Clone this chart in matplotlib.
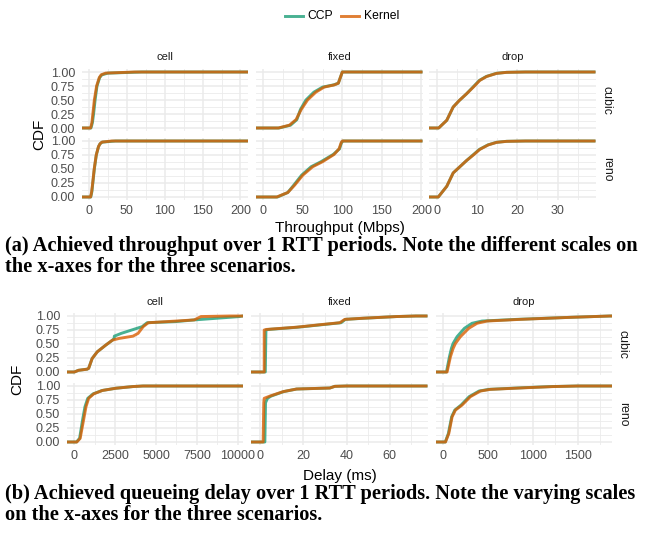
import matplotlib
matplotlib.use("Agg")
import matplotlib.pyplot as plt

# colours (ggplot Dark2)
CCP_COLOR = "#1B9E77"
KERNEL_COLOR = "#D95F02"

SCENARIOS = ["cell", "fixed", "drop"]
ALGOS = ["cubic", "reno"]

# ---- throughput data: x (Mbps) read at given CDF levels ----
TPUT_CELL_LEVELS = [0, 0.05, 0.1, 0.25, 0.5, 0.75, 0.9, 0.95, 0.98, 1.0]
TPUT_CELL_CUBIC_CCP = [2.5, 3.6, 4.5, 6, 8, 10.5, 14, 17, 25, 70]
TPUT_CELL_CUBIC_KERNEL = [2, 3, 3.8, 5, 7, 10, 13.5, 16, 22, 60]
TPUT_CELL_RENO_CCP = [2.2, 3.1, 3.8, 5.0, 7.0, 9.6, 12.5, 14.5, 17.5, 35]
TPUT_CELL_RENO_KERNEL = [2, 2.8, 3.5, 4.8, 6.8, 9.5, 12.5, 14.5, 17, 30]

TPUT_FIXED_CUBIC_LEVELS = [0, 0.05, 0.15, 0.33, 0.5, 0.64, 0.73, 0.77, 0.8, 0.9, 1.0]
TPUT_FIXED_CUBIC_CCP = [20, 34.5, 42.5, 47, 54, 64, 75, 89, 95, 97.5, 100]
TPUT_FIXED_CUBIC_KERNEL = [19, 33, 41.5, 48, 56, 66.5, 77, 90, 95, 97.5, 100]
TPUT_FIXED_RENO_LEVELS = [0, 0.08, 0.21, 0.39, 0.54, 0.63, 0.76, 0.86, 0.97, 1.0]
TPUT_FIXED_RENO_CCP = [18, 31, 38.5, 48.5, 60.5, 73, 88.5, 96.5, 99, 101]
TPUT_FIXED_RENO_KERNEL = [17, 31, 39.6, 50, 62.5, 75, 89.6, 95.9, 98.6, 100]

TPUT_DROP_CUBIC_LEVELS = [0, 0.137, 0.375, 0.49, 0.61, 0.73, 0.85, 0.92, 0.976, 0.994, 1.0]
TPUT_DROP_CUBIC_CCP = [0.5, 2.5, 4.1, 5.6, 7.4, 9.0, 10.6, 12.3, 14.8, 17.3, 22]
TPUT_DROP_CUBIC_KERNEL = [0.5, 2.5, 4.1, 5.6, 7.4, 9.1, 10.7, 12.4, 14.9, 17.4, 22]
TPUT_DROP_RENO_LEVELS = [0, 0.19, 0.43, 0.53, 0.65, 0.75, 0.85, 0.93, 0.976, 0.994, 1.0]
TPUT_DROP_RENO_CCP = [0.4, 2.5, 4.1, 5.6, 7.4, 9.0, 10.6, 12.7, 14.8, 17.3, 22]
TPUT_DROP_RENO_KERNEL = [0.4, 2.5, 4.1, 5.6, 7.4, 9.1, 10.7, 12.8, 14.9, 17.4, 22]

# ---- delay data: x (ms) read at given CDF levels ----
DELAY_CELL_CUBIC_LEVELS = [0, 0.03, 0.05, 0.065, 0.24, 0.36, 0.48, 0.57, 0.6, 0.64,
                           0.69, 0.81, 0.88, 0.9, 0.93, 0.99, 1.0]
DELAY_CELL_CUBIC_CCP = [0, 250, 775, 875, 1087, 1400, 1920, 2337, 2440, 2445,
                        2870, 4150, 4450, 6200, 7337, 10100, 10300]
DELAY_CELL_CUBIC_KERNEL = [0, 250, 775, 875, 1087, 1400, 1920, 2337, 2750, 3587,
                           3900, 4212, 4525, 5668, 7337, 7750, 9500]
DELAY_CELL_RENO_LEVELS = [0, 0.065, 0.39, 0.63, 0.78, 0.86, 0.92, 0.96, 0.99, 1.0]
DELAY_CELL_RENO_CCP = [130, 320, 500, 650, 820, 1150, 1700, 2540, 3580, 4200]
DELAY_CELL_RENO_KERNEL = [150, 356, 562, 712, 875, 1187, 1710, 2540, 3580, 4200]

DELAY_FIXED_CUBIC_LEVELS = [0, 0.75, 0.76, 0.8, 0.85, 0.88, 0.94, 0.96, 0.99, 1.0]
DELAY_FIXED_CUBIC_CCP = [2.5, 2.8, 4.0, 17.5, 30, 37.5, 39.5, 48, 63, 72]
DELAY_FIXED_CUBIC_KERNEL = [2, 2, 3, 16.9, 29.2, 36.9, 39.2, 47.6, 63, 72]
DELAY_FIXED_RENO_LEVELS = [0, 0.7, 0.78, 0.82, 0.9, 0.946, 0.964, 0.994, 1.0]
DELAY_FIXED_RENO_CCP = [2.3, 2.6, 3.5, 5.2, 11, 17, 32.3, 34.6, 40]
DELAY_FIXED_RENO_KERNEL = [1.5, 1.8, 2.0, 4.6, 10.8, 16.9, 32.3, 34.6, 40]

DELAY_DROP_CUBIC_LEVELS = [0, 0.27, 0.42, 0.51, 0.63, 0.78, 0.87, 0.91, 0.94, 0.976, 1.0]
DELAY_DROP_CUBIC_CCP = [37, 70, 92, 111, 155, 237, 322, 433, 822, 1415, 1859]
DELAY_DROP_CUBIC_KERNEL = [44, 81, 111, 137, 192, 285, 378, 489, 859, 1415, 1859]
DELAY_DROP_RENO_LEVELS = [0, 0.15, 0.45, 0.57, 0.66, 0.81, 0.91, 0.94, 0.97, 0.99, 1.0]
DELAY_DROP_RENO_CCP = [24, 58, 95, 130, 200, 290, 400, 510, 900, 1200, 1500]
DELAY_DROP_RENO_KERNEL = [26, 63, 100, 137, 211, 304, 415, 526, 933, 1230, 1500]

TPUT_XTICKS = [[0, 50, 100, 150, 200], [0, 50, 100, 150, 200], [0, 10, 20, 30]]
TPUT_XLIMS = [(-9.3, 210.6), (-9.2, 201.5), (-1.9, 39.4)]
DELAY_XTICKS = [[0, 2500, 5000, 7500, 10000], [0, 20, 40, 60], [0, 500, 1000, 1500]]
DELAY_XLIMS = [(-450, 10350), (-4.1, 77.4), (-85, 1881)]
Y_TICKS = [0, 0.25, 0.5, 0.75, 1.0]

TPUT = {
    ("cell", "cubic"): (TPUT_CELL_LEVELS, TPUT_CELL_CUBIC_CCP, TPUT_CELL_CUBIC_KERNEL),
    ("cell", "reno"): (TPUT_CELL_LEVELS, TPUT_CELL_RENO_CCP, TPUT_CELL_RENO_KERNEL),
    ("fixed", "cubic"): (TPUT_FIXED_CUBIC_LEVELS, TPUT_FIXED_CUBIC_CCP, TPUT_FIXED_CUBIC_KERNEL),
    ("fixed", "reno"): (TPUT_FIXED_RENO_LEVELS, TPUT_FIXED_RENO_CCP, TPUT_FIXED_RENO_KERNEL),
    ("drop", "cubic"): (TPUT_DROP_CUBIC_LEVELS, TPUT_DROP_CUBIC_CCP, TPUT_DROP_CUBIC_KERNEL),
    ("drop", "reno"): (TPUT_DROP_RENO_LEVELS, TPUT_DROP_RENO_CCP, TPUT_DROP_RENO_KERNEL),
}
DELAY = {
    ("cell", "cubic"): (DELAY_CELL_CUBIC_LEVELS, DELAY_CELL_CUBIC_CCP, DELAY_CELL_CUBIC_KERNEL),
    ("cell", "reno"): (DELAY_CELL_RENO_LEVELS, DELAY_CELL_RENO_CCP, DELAY_CELL_RENO_KERNEL),
    ("fixed", "cubic"): (DELAY_FIXED_CUBIC_LEVELS, DELAY_FIXED_CUBIC_CCP, DELAY_FIXED_CUBIC_KERNEL),
    ("fixed", "reno"): (DELAY_FIXED_RENO_LEVELS, DELAY_FIXED_RENO_CCP, DELAY_FIXED_RENO_KERNEL),
    ("drop", "cubic"): (DELAY_DROP_CUBIC_LEVELS, DELAY_DROP_CUBIC_CCP, DELAY_DROP_CUBIC_KERNEL),
    ("drop", "reno"): (DELAY_DROP_RENO_LEVELS, DELAY_DROP_RENO_CCP, DELAY_DROP_RENO_KERNEL),
}

W, H = 645, 537
plt.rcParams['font.family'] = ['Liberation Sans', 'DejaVu Sans']
fig = plt.figure(figsize=(W / 100, H / 100), dpi=100)


def fx(x):
    return x / W


def fy(y):
    return 1 - y / H


def add_panel(left, top, width, height):
    return fig.add_axes([fx(left), fy(top + height), width / W, height / H])


def fmt_num(v):
    return f"{v:g}"


def draw_grid(data, xticks_all, xlims, lefts, width, tops, height, xlabel, lab_x, lab_y, strip_y, right_x):
    for c, scen in enumerate(SCENARIOS):
        for r, algo in enumerate(ALGOS):
            ax = add_panel(lefts[c], tops[r], width, height)
            levels, ccp, kern = data[(scen, algo)]
            x0, x1 = xlims[c]
            for xs, col in ((ccp, CCP_COLOR), (kern, KERNEL_COLOR)):
                ax.plot([x0] + xs + [x1], [0] + levels + [1], color=col, lw=2.1,
                        alpha=0.8, solid_capstyle='butt', zorder=3)
            xt = xticks_all[c]
            ax.set_xticks(xt)
            step = xt[1] - xt[0]
            minors = [t + step / 2 for t in [xt[0] - step] + xt]
            ax.set_xticks([m for m in minors if x0 < m < x1], minor=True)
            ax.set_yticks(Y_TICKS)
            ax.set_yticks([0.125, 0.375, 0.625, 0.875], minor=True)
            ax.set_xlim(x0, x1)
            ax.set_ylim(-0.05, 1.05)
            ax.grid(which='major', color='#EBEBEB', lw=1.1)
            ax.grid(which='minor', color='#EBEBEB', lw=0.6)
            ax.set_axisbelow(True)
            for s in ax.spines.values():
                s.set_visible(False)
            ax.tick_params(which='both', length=0, labelsize=9, labelcolor='#4D4D4D')
            ax.tick_params(axis='x', pad=4)
            ax.tick_params(axis='y', pad=5)
            if c == 0:
                ax.set_yticklabels([f"{v:.2f}" for v in Y_TICKS])
            else:
                ax.set_yticklabels([])
            if r == 1:
                ax.set_xticklabels([fmt_num(v) for v in xt])
            else:
                ax.set_xticklabels([])
            if r == 0:
                fig.text(fx(lefts[c] + width / 2), fy(strip_y), scen, ha='center', va='center',
                         fontsize=8, color='#1A1A1A')
            if c == 2:
                fig.text(fx(right_x), fy(tops[r] + height / 2), algo, ha='center', va='center',
                         rotation=270, fontsize=8.8, color='#1A1A1A')
    fig.text(fx(lab_x), fy(lab_y), xlabel, ha='center', va='center', fontsize=11)


# (a) throughput
draw_grid(TPUT, TPUT_XTICKS, TPUT_XLIMS, [82, 256, 429], 166.5, [69.2, 138.2], 61.6,
          "Throughput (Mbps)", 340, 228, 57, 607)
fig.text(fx(39), fy(134), "CDF", rotation=90, ha='center', va='center', fontsize=11)

# (b) delay
draw_grid(DELAY, DELAY_XTICKS, DELAY_XLIMS, [67, 251, 435.5], 176.5, [313.2, 383.2], 61.6,
          "Delay (ms)", 340, 476, 302, 623)
fig.text(fx(17), fy(379), "CDF", rotation=90, ha='center', va='center', fontsize=11)

# legend
fig.lines.append(plt.Line2D([fx(285), fx(303)], [fy(16), fy(16)], color=CCP_COLOR, lw=2.1,
                            alpha=0.8, transform=fig.transFigure))
fig.text(fx(307), fy(16), "CCP", ha='left', va='center', fontsize=8.7)
fig.lines.append(plt.Line2D([fx(341), fx(359)], [fy(16), fy(16)], color=KERNEL_COLOR, lw=2.1,
                            alpha=0.8, transform=fig.transFigure))
fig.text(fx(364), fy(16), "Kernel", ha='left', va='center', fontsize=8.7)

# captions
cap = dict(family=['Liberation Serif', 'DejaVu Serif'], fontweight='bold', fontsize=14.7,
           ha='left', va='center', color='black')
fig.text(fx(5), fy(246), "(a) Achieved throughput over 1 RTT periods. Note the different scales on", **cap)
fig.text(fx(5), fy(267), "the x-axes for the three scenarios.", **cap)
fig.text(fx(5), fy(494), "(b) Achieved queueing delay over 1 RTT periods. Note the varying scales", **cap)
fig.text(fx(5), fy(515), "on the x-axes for the three scenarios.", **cap)

fig.savefig("out.png", dpi=100)
